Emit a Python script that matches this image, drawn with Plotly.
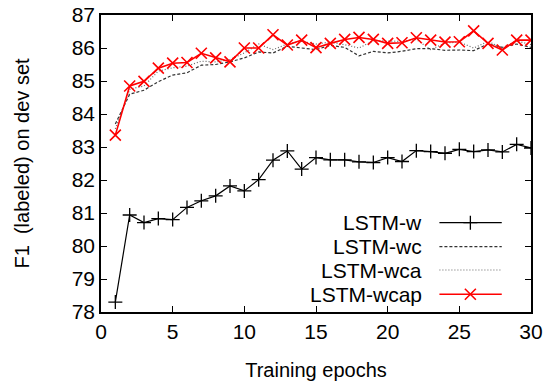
import plotly.graph_objects as go

epochs = list(range(1, 31))

lstm_w = [78.3, 80.94, 80.71, 80.83, 80.80, 81.17, 81.37, 81.52, 81.82, 81.67,
          82.01, 82.60, 82.88, 82.33, 82.68, 82.61, 82.61, 82.55, 82.53, 82.68,
          82.56, 82.89, 82.86, 82.81, 82.93, 82.86, 82.91, 82.85, 83.08, 82.97]

lstm_wc = [83.70, 84.60, 84.72, 84.98, 85.18, 85.25, 85.48, 85.50, 85.58, 85.70,
           85.88, 85.85, 86.05, 86.00, 85.95, 86.08, 86.02, 85.76, 85.90, 85.85,
           85.90, 85.98, 85.98, 85.93, 85.94, 85.92, 86.12, 86.02, 86.12, 86.02]

lstm_wca = [83.55, 84.75, 84.85, 85.30, 85.40, 85.45, 85.60, 85.58, 85.65, 85.85,
            86.12, 85.95, 86.12, 86.20, 86.12, 86.18, 86.10, 86.00, 86.22, 86.20,
            86.20, 86.26, 85.95, 86.15, 86.18, 86.00, 86.20, 86.00, 86.22, 86.10]

lstm_wcap = [83.36, 84.85, 84.99, 85.39, 85.54, 85.56, 85.84, 85.70, 85.58, 86.00,
             86.00, 86.40, 86.09, 86.24, 86.01, 86.14, 86.26, 86.32, 86.26, 86.14,
             86.16, 86.31, 86.24, 86.18, 86.19, 86.52, 86.14, 85.94, 86.24, 86.24]

names = ["LSTM-w", "LSTM-wc", "LSTM-wca", "LSTM-wcap"]
x_ticks = [0, 5, 10, 15, 20, 25, 30]
y_ticks = list(range(78, 88))

FONT = "Liberation Sans, Arial, Helvetica, sans-serif"

fig = go.Figure()

fig.add_trace(go.Scatter(x=epochs, y=lstm_w, mode="lines+markers", name=names[0],
                         line=dict(color="black", width=1.2),
                         marker=dict(symbol="cross-thin-open", size=10, color="black",
                                     line=dict(color="black", width=1.3))))
fig.add_trace(go.Scatter(x=epochs, y=lstm_wc, mode="lines", name=names[1],
                         line=dict(color="#333333", width=1.2, dash="3px,2px")))
fig.add_trace(go.Scatter(x=epochs, y=lstm_wca, mode="lines", name=names[2],
                         line=dict(color="#666666", width=1.2, dash="1px,2px")))
fig.add_trace(go.Scatter(x=epochs, y=lstm_wcap, mode="lines+markers", name=names[3],
                         line=dict(color="#ff0000", width=1.6),
                         marker=dict(symbol="x-thin-open", size=11, color="#ff0000",
                                     line=dict(color="#ff0000", width=1.6))))

# custom gnuplot-style legend (text right, sample line on right)
leg_y = [0.3007, 0.2199, 0.1414, 0.0596]
styles = [dict(color="black", width=1.2),
          dict(color="#333333", width=1.2, dash="3px,2px"),
          dict(color="#666666", width=1.2, dash="1px,2px"),
          dict(color="#ff0000", width=1.6)]
for nm, yy, st in zip(names, leg_y, styles):
    fig.add_annotation(x=0.751, y=yy, xref="paper", yref="paper", text=nm,
                       showarrow=False, xanchor="right", yanchor="middle",
                       font=dict(family=FONT, size=21, color="black"))
    fig.add_shape(type="line", xref="paper", yref="paper", x0=0.787, x1=0.932,
                  y0=yy, y1=yy, line=st)

fig.add_trace(go.Scatter(x=[0.859], y=[leg_y[0]], xaxis="x2", yaxis="y2", mode="markers",
                         showlegend=False, hoverinfo="skip",
                         marker=dict(symbol="cross-thin-open", size=10, color="black",
                                     line=dict(color="black", width=1.3))))
fig.add_trace(go.Scatter(x=[0.859], y=[leg_y[3]], xaxis="x2", yaxis="y2", mode="markers",
                         showlegend=False, hoverinfo="skip",
                         marker=dict(symbol="x-thin-open", size=11, color="#ff0000",
                                     line=dict(color="#ff0000", width=1.6))))

axis_common = dict(showgrid=False, zeroline=False, showline=True, linecolor="black",
                   linewidth=1.5, mirror="allticks", ticks="inside", ticklen=6,
                   tickwidth=1.2, tickcolor="black", ticklabeloverflow="allow",
                   tickfont=dict(family=FONT, size=21, color="black"))

fig.update_layout(
    width=549, height=386,
    margin=dict(l=101, r=18, t=15, b=74),
    paper_bgcolor="white", plot_bgcolor="white",
    showlegend=False,
    font=dict(family=FONT, color="black"),
    xaxis=dict(range=[0, 30], tickvals=x_ticks, automargin=False,
               title=dict(text="Training epochs", font=dict(family=FONT, size=20),
                          standoff=21),
               **axis_common),
    yaxis=dict(range=[78, 87], tickvals=y_ticks, automargin=False,
               title=dict(text="F1\u00a0 (labeled) on dev set",
                          font=dict(family=FONT, size=20), standoff=37),
               **axis_common),
    xaxis2=dict(overlaying="x", range=[0, 1], visible=False),
    yaxis2=dict(overlaying="y", range=[0, 1], visible=False),
)

fig.write_html("out.html", config={"displayModeBar": False},
               post_script="document.body.style.margin='0';document.body.style.overflow='hidden';")
